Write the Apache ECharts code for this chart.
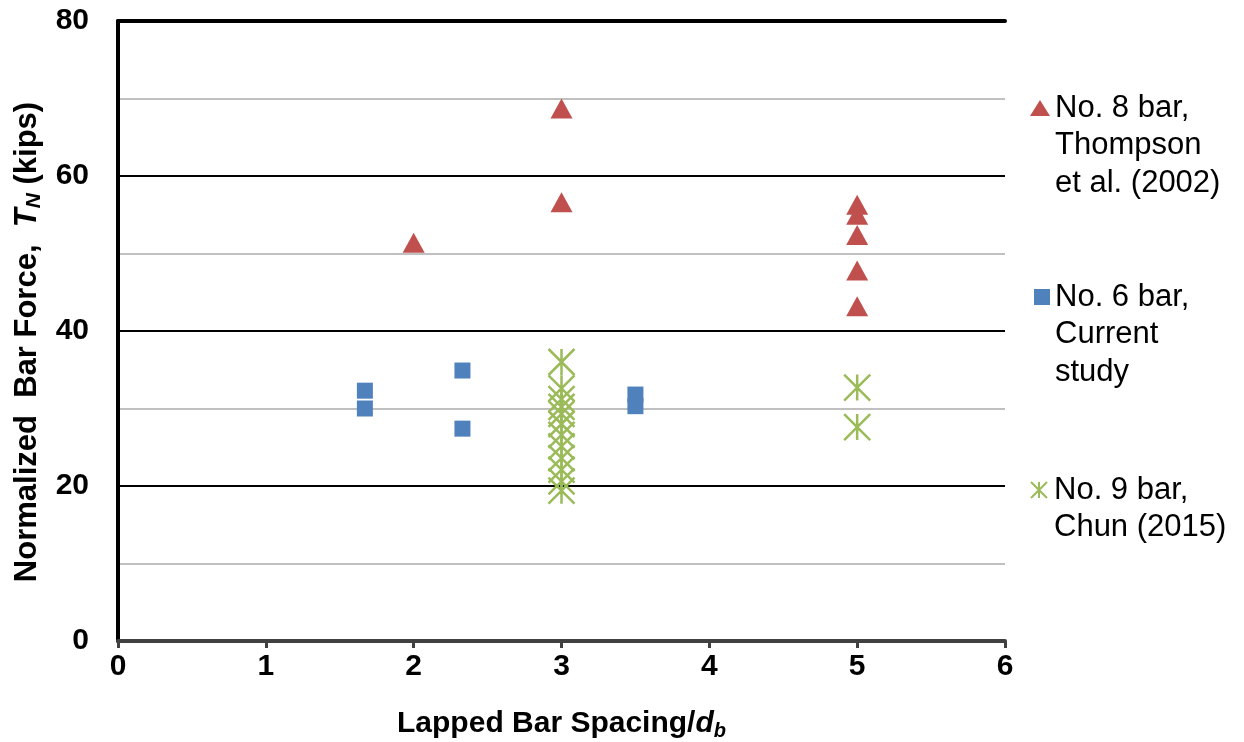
<!DOCTYPE html>
<html>
<head>
<meta charset="utf-8">
<script src="https://cdn.jsdelivr.net/npm/echarts@6/dist/echarts.min.js"></script>
<style>html,body{margin:0;padding:0;background:#fff}#c{width:1244px;height:742px}</style>
</head>
<body>
<div id="c"></div>
<script>
// ---- data ----
const thompsonName = 'No. 8 bar, Thompson et al. (2002)';
const currentName = 'No. 6 bar, Current study';
const chunName = 'No. 9 bar, Chun (2015)';
const thompsonX = [2, 3, 3, 5, 5, 5, 5, 5];
const thompsonY = [51.4, 68.7, 56.6, 56.3, 55.0, 52.4, 47.8, 43.2];
const currentX = [1.67, 1.67, 2.33, 2.33, 3.5, 3.5];
const currentY = [32.3, 30.0, 34.9, 27.4, 31.8, 30.3];
const chunX = [3, 3, 3, 3, 3, 3, 3, 3, 3, 3, 3, 3, 5, 5];
const chunY = [36.0, 32.6, 31.2, 30.2, 29.3, 28.0, 26.6, 25.1, 23.6, 22.1, 20.6, 19.4, 32.7, 27.6];
const xTicks = [0, 1, 2, 3, 4, 5, 6];
const yTicks = [0, 20, 40, 60, 80];
const legendLines = {
  [thompsonName]: ['No. 8 bar,', 'Thompson', 'et al. (2002)'],
  [currentName]: ['No. 6 bar,', 'Current', 'study'],
  [chunName]: ['No. 9 bar,', 'Chun (2015)']
};

const zip = (xs, ys) => xs.map((x, i) => [x, ys[i]]);
const FONT = 'Liberation Sans, Arial, sans-serif';
const asterisk = 'path://M0 0 L10 10 M10 0 L0 10 M5 0 L5 10';

// pad with blank lines above so the first text line sits level with the icon
function legendLabel(name) {
  const lines = legendLines[name];
  const pad = [];
  for (let i = 1; i < lines.length; i++) pad.push(' ');
  return pad.concat(lines).join('\n');
}
function mkLegend(name, iconY, iw) {
  const n = legendLines[name].length;
  const LH = 37.5;
  const half = (2 * n - 1) * LH / 2;
  return {
    data: [name], orient: 'vertical', left: 1050 - iw, top: iconY - half, padding: 0,
    itemWidth: iw, itemHeight: 16,
    formatter: legendLabel,
    textStyle: { fontFamily: FONT, fontSize: 31, color: '#000', lineHeight: LH }
  };
}

const chart = echarts.init(document.getElementById('c'));
chart.setOption({
  animation: false,
  grid: { left: 118, right: 239, top: 21, bottom: 101, outerBoundsMode: 'none', containLabel: false },
  xAxis: [{
    type: 'value', min: 0, max: 6, interval: 1,
    axisLine: { onZero: false, lineStyle: { color: '#404040', width: 4 } },
    axisTick: { show: true, length: 7, lineStyle: { color: '#404040', width: 3 } },
    axisLabel: { fontFamily: FONT, fontSize: 30, fontWeight: 'bold', color: '#000', margin: 11,
      formatter: v => xTicks.includes(v) ? String(v) : '' },
    splitLine: { show: false },
    name: '{a|Lapped Bar Spacing/}{i|d}{s|b}',
    nameLocation: 'middle', nameGap: 66,
    nameTextStyle: { rich: {
      a: { fontFamily: FONT, fontSize: 30, fontWeight: 'bold', color: '#000', lineHeight: 34 },
      i: { fontFamily: FONT, fontSize: 30, fontWeight: 'bold', fontStyle: 'italic', color: '#000', lineHeight: 34 },
      s: { fontFamily: FONT, fontSize: 20, fontWeight: 'bold', fontStyle: 'italic', color: '#000', lineHeight: 20, verticalAlign: 'bottom' }
    } }
  }, {
    type: 'value', min: 0, max: 6, position: 'top',
    axisLine: { show: true, onZero: false, lineStyle: { color: '#000', width: 4 } },
    axisTick: { show: false }, axisLabel: { show: false }, splitLine: { show: false }
  }],
  yAxis: {
    type: 'value', min: 0, max: 80, interval: 20,
    axisLine: { show: true, onZero: false, lineStyle: { color: '#000', width: 4 } },
    axisTick: { show: false },
    axisLabel: { fontFamily: FONT, fontSize: 30, fontWeight: 'bold', color: '#000', margin: 29,
      formatter: v => yTicks.includes(v) ? String(v) : '' },
    splitLine: { show: true, lineStyle: { color: '#000', width: 2 } },
    minorTick: { show: false, splitNumber: 2 },
    minorSplitLine: { show: true, lineStyle: { color: '#C0C0C0', width: 2 } },
    name: '{a|Normalized  Bar Force,  }{i|T}{s|N}{a| (kips)}',
    nameLocation: 'middle', nameGap: 63, nameRotate: 90,
    nameTextStyle: { padding: [0, 22, 0, 0], rich: {
      a: { fontFamily: FONT, fontSize: 31, fontWeight: 'bold', color: '#000', lineHeight: 34 },
      i: { fontFamily: FONT, fontSize: 31, fontWeight: 'bold', fontStyle: 'italic', color: '#000', lineHeight: 34 },
      s: { fontFamily: FONT, fontSize: 21, fontWeight: 'bold', fontStyle: 'italic', color: '#000', lineHeight: 20, verticalAlign: 'bottom' }
    } }
  },
  legend: [
    mkLegend(thompsonName, 108, 20),
    mkLegend(currentName, 297, 16),
    mkLegend(chunName, 490, 20)
  ],
  series: [
    { name: thompsonName, type: 'scatter', symbol: 'triangle', symbolSize: [22, 20],
      itemStyle: { color: '#C0504D', opacity: 1 }, data: zip(thompsonX, thompsonY), z: 3 },
    { name: currentName, type: 'scatter', symbol: 'rect', symbolSize: 16,
      itemStyle: { color: '#4F81BD', opacity: 1 }, data: zip(currentX, currentY), z: 3 },
    { name: chunName, type: 'scatter', symbol: asterisk, symbolSize: 26,
      itemStyle: { color: '#9BBB59', borderColor: '#9BBB59', borderWidth: 2.5, opacity: 1 },
      data: zip(chunX, chunY), z: 3 }
  ]
});
</script>
</body>
</html>
